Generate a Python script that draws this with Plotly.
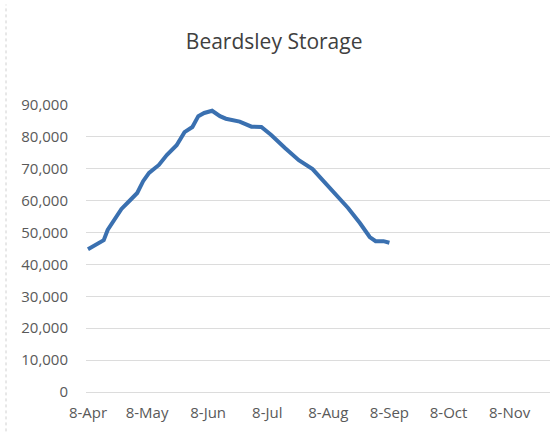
import plotly.graph_objects as go

# Reservoir storage readings
dates = [
    "2014-04-08", "2014-04-12", "2014-04-16", "2014-04-18", "2014-04-21",
    "2014-04-25", "2014-04-29", "2014-05-03", "2014-05-06", "2014-05-09",
    "2014-05-14", "2014-05-18", "2014-05-23", "2014-05-27", "2014-05-31",
    "2014-06-03", "2014-06-06", "2014-06-10", "2014-06-14", "2014-06-17",
    "2014-06-24", "2014-06-30", "2014-07-05", "2014-07-10", "2014-07-17",
    "2014-07-24", "2014-07-31", "2014-08-06", "2014-08-12", "2014-08-18",
    "2014-08-24", "2014-08-29", "2014-09-01", "2014-09-05", "2014-09-08",
]
storage = [
    44800, 46100, 47600, 50800, 53600,
    57400, 59900, 62400, 66100, 68700,
    71200, 74300, 77400, 81500, 83100,
    86500, 87500, 88200, 86500, 85700,
    84800, 83200, 83100, 80600, 76500,
    72700, 69900, 65800, 61800, 57700,
    53000, 48600, 47300, 47300, 46800,
]

tick_dates = ["2014-04-08", "2014-05-08", "2014-06-08", "2014-07-08",
              "2014-08-08", "2014-09-08", "2014-10-08", "2014-11-08"]
tick_text = ["8-Apr", "8-May", "8-Jun", "8-Jul", "8-Aug", "8-Sep", "8-Oct", "8-Nov"]

y_ticks = [0, 10000, 20000, 30000, 40000, 50000, 60000, 70000, 80000, 90000]

label_font = dict(family="Open Sans", size=15, color="#595959")
grid_color = "#dcdcdc"

fig = go.Figure()
fig.add_trace(go.Scatter(
    x=dates, y=storage, mode="lines",
    line=dict(color="#3a70b0", width=4, shape="linear"),
    showlegend=False, hoverinfo="x+y",
))

fig.update_layout(
    width=555, height=434,
    margin=dict(l=86, r=5, t=105, b=42),
    paper_bgcolor="white", plot_bgcolor="white",
    title=dict(
        text="Beardsley Storage",
        font=dict(family="Open Sans", size=21, color="#404040"),
        x=0.494, xref="container", xanchor="center",
        y=1 - 42 / 434, yref="container", yanchor="middle",
    ),
    xaxis=dict(
        type="date",
        range=["2014-04-07", "2014-11-28 12:00"],
        tickvals=tick_dates, ticktext=tick_text,
        tickfont=label_font,
        showgrid=False, zeroline=False, showline=False,
        ticks="", ticklabelstandoff=10,
    ),
    yaxis=dict(
        range=[0, 90000],
        tickvals=y_ticks, tickformat=",d",
        tickfont=label_font,
        showgrid=True, gridcolor=grid_color, gridwidth=1,
        zeroline=True, zerolinecolor=grid_color, zerolinewidth=1,
        showline=False, ticks="", ticklabelstandoff=17,
    ),
)

# faint chart border on the left edge
fig.add_shape(type="line", xref="paper", yref="paper",
              x0=-80 / 464, x1=-80 / 464, y0=-0.2, y1=1.35,
              line=dict(color="#d0d0d0", width=1, dash="dot"))

fig.write_html("out.html")
